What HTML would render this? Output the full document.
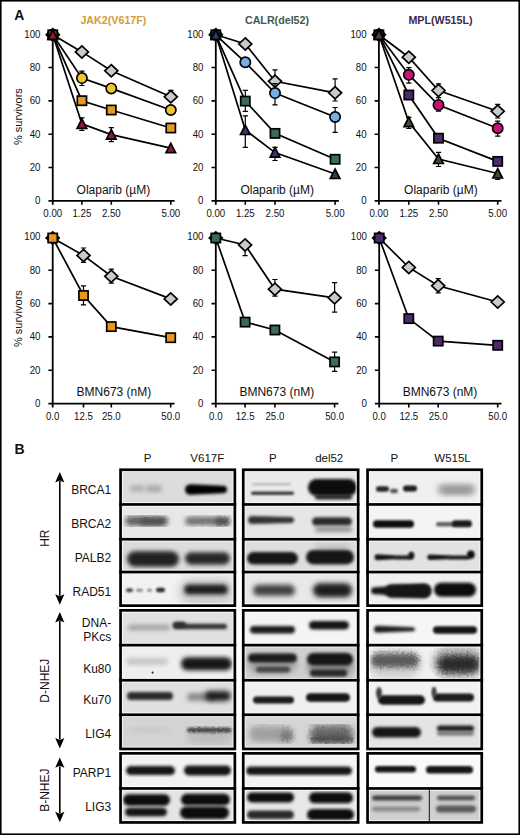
<!DOCTYPE html>
<html><head><meta charset="utf-8"><title>Figure</title>
<style>html,body{margin:0;padding:0;background:#fff;}body{width:520px;height:835px;overflow:hidden;}svg{display:block;}text{font-family:"Liberation Sans", sans-serif;}</style>
</head><body>
<svg width="520" height="835" viewBox="0 0 520 835">
<rect x="0" y="0" width="520" height="835" fill="#fff"/>
<defs><filter id="b0_5" x="-30%" y="-100%" width="160%" height="300%"><feGaussianBlur stdDeviation="0.60"/></filter><filter id="b0_9" x="-30%" y="-100%" width="160%" height="300%"><feGaussianBlur stdDeviation="1.08"/></filter><filter id="b1_0" x="-30%" y="-100%" width="160%" height="300%"><feGaussianBlur stdDeviation="1.20"/></filter><filter id="b1_1" x="-30%" y="-100%" width="160%" height="300%"><feGaussianBlur stdDeviation="1.32"/></filter><filter id="b1_2" x="-30%" y="-100%" width="160%" height="300%"><feGaussianBlur stdDeviation="1.44"/></filter><filter id="b1_3" x="-30%" y="-100%" width="160%" height="300%"><feGaussianBlur stdDeviation="1.56"/></filter><filter id="b1_4" x="-30%" y="-100%" width="160%" height="300%"><feGaussianBlur stdDeviation="1.68"/></filter><filter id="b1_5" x="-30%" y="-100%" width="160%" height="300%"><feGaussianBlur stdDeviation="1.80"/></filter><filter id="b1_6" x="-30%" y="-100%" width="160%" height="300%"><feGaussianBlur stdDeviation="1.92"/></filter><filter id="b1_7" x="-30%" y="-100%" width="160%" height="300%"><feGaussianBlur stdDeviation="2.04"/></filter><filter id="b1_8" x="-30%" y="-100%" width="160%" height="300%"><feGaussianBlur stdDeviation="2.16"/></filter><filter id="b2_0" x="-30%" y="-100%" width="160%" height="300%"><feGaussianBlur stdDeviation="2.40"/></filter><filter id="b2_2" x="-30%" y="-100%" width="160%" height="300%"><feGaussianBlur stdDeviation="2.64"/></filter><filter id="b2_4" x="-30%" y="-100%" width="160%" height="300%"><feGaussianBlur stdDeviation="2.88"/></filter><filter id="b2_5" x="-30%" y="-100%" width="160%" height="300%"><feGaussianBlur stdDeviation="3.00"/></filter><filter id="b2_6" x="-30%" y="-100%" width="160%" height="300%"><feGaussianBlur stdDeviation="3.12"/></filter><filter id="b3_0" x="-30%" y="-100%" width="160%" height="300%"><feGaussianBlur stdDeviation="3.60"/></filter><filter id="b3_5" x="-30%" y="-100%" width="160%" height="300%"><feGaussianBlur stdDeviation="4.20"/></filter><filter id="mot25" x="-5%" y="-5%" width="110%" height="110%"><feTurbulence type="fractalNoise" baseFrequency="0.45" numOctaves="2" seed="3" result="n"/><feDisplacementMap in="SourceGraphic" in2="n" scale="2.5" xChannelSelector="R" yChannelSelector="G"/></filter><filter id="mot30" x="-5%" y="-5%" width="110%" height="110%"><feTurbulence type="fractalNoise" baseFrequency="0.45" numOctaves="2" seed="3" result="n"/><feDisplacementMap in="SourceGraphic" in2="n" scale="3.0" xChannelSelector="R" yChannelSelector="G"/></filter><filter id="mot50" x="-5%" y="-5%" width="110%" height="110%"><feTurbulence type="fractalNoise" baseFrequency="0.45" numOctaves="2" seed="3" result="n"/><feDisplacementMap in="SourceGraphic" in2="n" scale="5.0" xChannelSelector="R" yChannelSelector="G"/></filter></defs>
<clipPath id="c0_0"><rect x="121.90" y="471.10" width="111.60" height="32.00"/></clipPath>
<g clip-path="url(#c0_0)"><rect x="121.90" y="471.10" width="111.60" height="32.00" fill="#dcdcdc"/>
<rect x="130.00" y="485.10" width="15.00" height="7.00" rx="3.50" fill="#b2b2b2" filter="url(#b1_8)"/>
<rect x="146.00" y="485.30" width="16.00" height="7.00" rx="3.50" fill="#aaaaaa" filter="url(#b1_8)"/>
<path d="M190.25 484.25L223.25 485.75A3.75 3.75 0 0 1 223.25 493.25L190.25 494.75A5.25 5.25 0 0 1 190.25 484.25Z" fill="#050505" filter="url(#b1_3)"/>
<rect x="121.90" y="471.10" width="111.60" height="32.00" fill="none" stroke="#fff" stroke-opacity="0.75" stroke-width="2.0"/>
</g>
<clipPath id="c0_1"><rect x="244.60" y="471.10" width="112.20" height="32.00"/></clipPath>
<g clip-path="url(#c0_1)"><rect x="244.60" y="471.10" width="112.20" height="32.00" fill="#eaeaea"/>
<rect x="252.00" y="483.05" width="39.00" height="2.50" rx="1.25" fill="#bcbcbc" filter="url(#b1_0)"/>
<rect x="251.00" y="491.55" width="43.00" height="3.50" rx="1.75" fill="#3c3c3c" filter="url(#b0_9)"/>
<rect x="308.00" y="479.00" width="49.00" height="17.00" rx="8.50" fill="#080808" filter="url(#b1_4)"/>
<rect x="315.00" y="494.50" width="37.00" height="5.00" rx="2.50" fill="#202020" filter="url(#b1_4)"/>
<rect x="244.60" y="471.10" width="112.20" height="32.00" fill="none" stroke="#fff" stroke-opacity="0.75" stroke-width="2.0"/>
</g>
<clipPath id="c0_2"><rect x="368.90" y="471.10" width="111.50" height="32.00"/></clipPath>
<g clip-path="url(#c0_2)"><rect x="368.90" y="471.10" width="111.50" height="32.00" fill="#f0f0f0"/>
<rect x="376.00" y="486.25" width="13.00" height="5.50" rx="2.75" fill="#262626" filter="url(#b1_0)"/>
<rect x="390.00" y="488.75" width="8.00" height="4.50" rx="2.25" fill="#5a5a5a" filter="url(#b1_0)"/>
<rect x="403.00" y="485.40" width="14.00" height="6.00" rx="3.00" fill="#1c1c1c" filter="url(#b1_0)"/>
<rect x="437.00" y="483.50" width="39.00" height="12.00" rx="6.00" fill="#b0b0b0" filter="url(#b2_2)"/>
<rect x="443.00" y="487.00" width="27.00" height="6.00" rx="3.00" fill="#989898" filter="url(#b1_6)"/>
<rect x="368.90" y="471.10" width="111.50" height="32.00" fill="none" stroke="#fff" stroke-opacity="0.75" stroke-width="2.0"/>
</g>
<clipPath id="c1_0"><rect x="121.90" y="505.80" width="111.60" height="32.10"/></clipPath>
<g clip-path="url(#c1_0)"><rect x="121.90" y="505.80" width="111.60" height="32.10" fill="#e8e8e8"/>
<g filter="url(#mot25)">
<rect x="125.00" y="516.25" width="43.00" height="9.50" rx="4.75" fill="#5e5e5e" filter="url(#b2_2)"/>
<rect x="140.00" y="518.50" width="25.00" height="6.00" rx="3.00" fill="#4e4e4e" filter="url(#b1_8)"/>
<rect x="185.00" y="516.75" width="45.00" height="8.50" rx="4.25" fill="#6e6e6e" filter="url(#b2_2)"/>
<rect x="215.00" y="518.00" width="14.00" height="7.00" rx="3.50" fill="#505050" filter="url(#b1_8)"/>
</g>
<rect x="121.90" y="505.80" width="111.60" height="32.10" fill="none" stroke="#fff" stroke-opacity="0.75" stroke-width="2.0"/>
</g>
<clipPath id="c1_1"><rect x="244.60" y="505.80" width="112.20" height="32.10"/></clipPath>
<g clip-path="url(#c1_1)"><rect x="244.60" y="505.80" width="112.20" height="32.10" fill="#e6e6e6"/>
<path d="M252.00 516.00L291.00 517.00A3.00 3.00 0 0 1 291.00 523.00L252.00 524.00A4.00 4.00 0 0 1 252.00 516.00Z" fill="#303030" filter="url(#b1_5)"/>
<rect x="312.00" y="517.35" width="40.00" height="8.50" rx="4.25" fill="#2c2c2c" filter="url(#b1_5)"/>
<rect x="315.00" y="526.80" width="37.00" height="5.00" rx="2.50" fill="#8a8a8a" filter="url(#b1_6)"/>
<rect x="244.60" y="505.80" width="112.20" height="32.10" fill="none" stroke="#fff" stroke-opacity="0.75" stroke-width="2.0"/>
</g>
<clipPath id="c1_2"><rect x="368.90" y="505.80" width="111.50" height="32.10"/></clipPath>
<g clip-path="url(#c1_2)"><rect x="368.90" y="505.80" width="111.50" height="32.10" fill="#f4f4f4"/>
<rect x="373.00" y="520.25" width="41.00" height="7.50" rx="3.75" fill="#101010" filter="url(#b1_1)"/>
<rect x="436.00" y="521.95" width="20.00" height="4.50" rx="2.25" fill="#606060" filter="url(#b1_0)"/>
<rect x="452.00" y="520.30" width="20.00" height="7.00" rx="3.50" fill="#1a1a1a" filter="url(#b1_0)"/>
<rect x="368.90" y="505.80" width="111.50" height="32.10" fill="none" stroke="#fff" stroke-opacity="0.75" stroke-width="2.0"/>
</g>
<clipPath id="c2_0"><rect x="121.90" y="540.60" width="111.60" height="30.10"/></clipPath>
<g clip-path="url(#c2_0)"><rect x="121.90" y="540.60" width="111.60" height="30.10" fill="#dcdcdc"/>
<rect x="127.00" y="551.25" width="52.00" height="15.50" rx="7.75" fill="#222222" filter="url(#b1_7)"/>
<rect x="185.00" y="552.15" width="45.00" height="12.50" rx="6.25" fill="#282828" filter="url(#b1_7)"/>
<rect x="121.90" y="540.60" width="111.60" height="30.10" fill="none" stroke="#fff" stroke-opacity="0.75" stroke-width="2.0"/>
</g>
<clipPath id="c2_1"><rect x="244.60" y="540.60" width="112.20" height="30.10"/></clipPath>
<g clip-path="url(#c2_1)"><rect x="244.60" y="540.60" width="112.20" height="30.10" fill="#dedede"/>
<rect x="247.00" y="552.05" width="51.00" height="12.50" rx="6.25" fill="#181818" filter="url(#b1_5)"/>
<rect x="315.00" y="545.00" width="35.00" height="6.00" rx="3.00" fill="#b8b8b8" filter="url(#b2_5)"/>
<rect x="306.00" y="549.95" width="48.00" height="14.50" rx="7.25" fill="#141414" filter="url(#b1_5)"/>
<rect x="244.60" y="540.60" width="112.20" height="30.10" fill="none" stroke="#fff" stroke-opacity="0.75" stroke-width="2.0"/>
</g>
<clipPath id="c2_2"><rect x="368.90" y="540.60" width="111.50" height="30.10"/></clipPath>
<g clip-path="url(#c2_2)"><rect x="368.90" y="540.60" width="111.50" height="30.10" fill="#e2e2e2"/>
<path d="M377.50 554.30L394.00 555.30A2.00 2.00 0 0 1 394.00 559.30L377.50 560.30A3.00 3.00 0 0 1 377.50 554.30Z" fill="#181818" filter="url(#b1_0)"/>
<rect x="394.00" y="555.60" width="18.00" height="4.00" rx="2.00" fill="#1c1c1c" filter="url(#b1_0)"/>
<rect x="408.30" y="551.65" width="6.00" height="7.50" rx="3.75" fill="#121212" filter="url(#b1_0)"/>
<path d="M430.05 554.55L448.00 555.30A2.00 2.00 0 0 1 448.00 559.30L430.05 560.05A2.75 2.75 0 0 1 430.05 554.55Z" fill="#181818" filter="url(#b1_0)"/>
<rect x="448.00" y="555.60" width="22.00" height="4.00" rx="2.00" fill="#1c1c1c" filter="url(#b1_0)"/>
<rect x="467.00" y="550.60" width="7.70" height="8.20" rx="4.10" fill="#101010" filter="url(#b1_0)"/>
<rect x="368.90" y="540.60" width="111.50" height="30.10" fill="none" stroke="#fff" stroke-opacity="0.75" stroke-width="2.0"/>
</g>
<clipPath id="c3_0"><rect x="121.90" y="573.40" width="111.60" height="30.90"/></clipPath>
<g clip-path="url(#c3_0)"><rect x="121.90" y="573.40" width="111.60" height="30.90" fill="#f2f2f2"/>
<rect x="178.00" y="578.00" width="58.00" height="28.00" rx="14.00" fill="#cfcfcf" filter="url(#b3_5)"/>
<rect x="126.00" y="588.30" width="7.00" height="4.00" rx="2.00" fill="#484848" filter="url(#b0_9)"/>
<rect x="136.00" y="588.80" width="7.00" height="3.00" rx="1.50" fill="#8c8c8c" filter="url(#b0_9)"/>
<rect x="147.00" y="588.80" width="5.00" height="3.00" rx="1.50" fill="#8c8c8c" filter="url(#b0_9)"/>
<rect x="156.00" y="587.75" width="9.00" height="4.50" rx="2.25" fill="#2c2c2c" filter="url(#b0_9)"/>
<rect x="184.00" y="584.60" width="44.00" height="10.00" rx="5.00" fill="#1e1e1e" filter="url(#b1_8)"/>
<rect x="121.90" y="573.40" width="111.60" height="30.90" fill="none" stroke="#fff" stroke-opacity="0.75" stroke-width="2.0"/>
</g>
<clipPath id="c3_1"><rect x="244.60" y="573.40" width="112.20" height="30.90"/></clipPath>
<g clip-path="url(#c3_1)"><rect x="244.60" y="573.40" width="112.20" height="30.90" fill="#e8e8e8"/>
<rect x="253.00" y="584.80" width="42.00" height="11.00" rx="5.50" fill="#404040" filter="url(#b2_2)"/>
<rect x="313.00" y="583.30" width="39.00" height="14.00" rx="7.00" fill="#1e1e1e" filter="url(#b2_2)"/>
<rect x="244.60" y="573.40" width="112.20" height="30.90" fill="none" stroke="#fff" stroke-opacity="0.75" stroke-width="2.0"/>
</g>
<clipPath id="c3_2"><rect x="368.90" y="573.40" width="111.50" height="30.90"/></clipPath>
<g clip-path="url(#c3_2)"><rect x="368.90" y="573.40" width="111.50" height="30.90" fill="#f0f0f0"/>
<path d="M374.50 587.30L424.30 584.10A6.70 6.70 0 0 1 424.30 597.50L374.50 594.30A3.50 3.50 0 0 1 374.50 587.30Z" fill="#121212" filter="url(#b1_5)"/>
<rect x="385.00" y="584.30" width="46.00" height="13.40" rx="6.70" fill="#121212" filter="url(#b1_5)"/>
<rect x="434.00" y="582.70" width="42.00" height="14.00" rx="7.00" fill="#0e0e0e" filter="url(#b1_5)"/>
<rect x="368.90" y="573.40" width="111.50" height="30.90" fill="none" stroke="#fff" stroke-opacity="0.75" stroke-width="2.0"/>
</g>
<rect x="120.55" y="469.75" width="114.30" height="135.90" fill="none" stroke="#000" stroke-width="2.7"/><rect x="119.20" y="503.10" width="117.00" height="2.7" fill="#000"/><rect x="119.20" y="537.90" width="117.00" height="2.7" fill="#000"/><rect x="119.20" y="570.70" width="117.00" height="2.7" fill="#000"/>
<rect x="243.25" y="469.75" width="114.90" height="135.90" fill="none" stroke="#000" stroke-width="2.7"/><rect x="241.90" y="503.10" width="117.60" height="2.7" fill="#000"/><rect x="241.90" y="537.90" width="117.60" height="2.7" fill="#000"/><rect x="241.90" y="570.70" width="117.60" height="2.7" fill="#000"/>
<rect x="367.55" y="469.75" width="114.20" height="135.90" fill="none" stroke="#000" stroke-width="2.7"/><rect x="366.20" y="503.10" width="116.90" height="2.7" fill="#000"/><rect x="366.20" y="537.90" width="116.90" height="2.7" fill="#000"/><rect x="366.20" y="570.70" width="116.90" height="2.7" fill="#000"/>
<clipPath id="c4_0"><rect x="121.90" y="611.70" width="111.60" height="32.10"/></clipPath>
<g clip-path="url(#c4_0)"><rect x="121.90" y="611.70" width="111.60" height="32.10" fill="#e0e0e0"/>
<rect x="128.00" y="624.85" width="42.00" height="5.50" rx="2.75" fill="#a2a2a2" filter="url(#b1_6)"/>
<rect x="173.00" y="623.75" width="54.00" height="5.50" rx="2.75" fill="#333333" filter="url(#b1_2)"/>
<rect x="173.00" y="621.75" width="13.00" height="5.50" rx="2.75" fill="#2c2c2c" filter="url(#b1_2)"/>
<rect x="121.90" y="611.70" width="111.60" height="32.10" fill="none" stroke="#fff" stroke-opacity="0.75" stroke-width="2.0"/>
</g>
<clipPath id="c4_1"><rect x="244.60" y="611.70" width="112.20" height="32.10"/></clipPath>
<g clip-path="url(#c4_1)"><rect x="244.60" y="611.70" width="112.20" height="32.10" fill="#f4f4f4"/>
<rect x="250.00" y="626.05" width="45.00" height="7.50" rx="3.75" fill="#1c1c1c" filter="url(#b1_2)"/>
<rect x="309.00" y="621.05" width="40.00" height="8.50" rx="4.25" fill="#121212" filter="url(#b1_2)"/>
<rect x="244.60" y="611.70" width="112.20" height="32.10" fill="none" stroke="#fff" stroke-opacity="0.75" stroke-width="2.0"/>
</g>
<clipPath id="c4_2"><rect x="368.90" y="611.70" width="111.50" height="32.10"/></clipPath>
<g clip-path="url(#c4_2)"><rect x="368.90" y="611.70" width="111.50" height="32.10" fill="#f6f6f6"/>
<path d="M377.50 625.70L413.00 627.20A2.00 2.00 0 0 1 413.00 631.20L377.50 632.70A3.50 3.50 0 0 1 377.50 625.70Z" fill="#1c1c1c" filter="url(#b1_2)"/>
<rect x="433.00" y="626.25" width="44.00" height="7.50" rx="3.75" fill="#141414" filter="url(#b1_1)"/>
<rect x="368.90" y="611.70" width="111.50" height="32.10" fill="none" stroke="#fff" stroke-opacity="0.75" stroke-width="2.0"/>
</g>
<clipPath id="c5_0"><rect x="121.90" y="646.50" width="111.60" height="32.40"/></clipPath>
<g clip-path="url(#c5_0)"><rect x="121.90" y="646.50" width="111.60" height="32.40" fill="#eeeeee"/>
<rect x="126.00" y="658.00" width="42.00" height="7.00" rx="3.50" fill="#c6c6c6" filter="url(#b1_8)"/>
<rect x="151.50" y="671.50" width="2.20" height="2.20" rx="1.10" fill="#303030" filter="url(#b0_5)"/>
<rect x="181.00" y="657.30" width="51.00" height="13.00" rx="6.50" fill="#161616" filter="url(#b1_6)"/>
<rect x="121.90" y="646.50" width="111.60" height="32.40" fill="none" stroke="#fff" stroke-opacity="0.75" stroke-width="2.0"/>
</g>
<clipPath id="c5_1"><rect x="244.60" y="646.50" width="112.20" height="32.40"/></clipPath>
<g clip-path="url(#c5_1)"><rect x="244.60" y="646.50" width="112.20" height="32.40" fill="#d0d0d0"/>
<rect x="248.00" y="655.00" width="49.00" height="18.00" rx="9.00" fill="#a0a0a0" filter="url(#b2_5)"/>
<rect x="307.00" y="655.00" width="46.00" height="22.00" rx="11.00" fill="#909090" filter="url(#b2_5)"/>
<rect x="248.00" y="653.50" width="49.00" height="9.00" rx="4.50" fill="#1c1c1c" filter="url(#b1_4)"/>
<rect x="256.00" y="666.60" width="34.00" height="6.00" rx="3.00" fill="#444444" filter="url(#b1_4)"/>
<rect x="307.00" y="652.95" width="46.00" height="12.50" rx="6.25" fill="#121212" filter="url(#b1_4)"/>
<rect x="310.00" y="669.50" width="37.00" height="7.00" rx="3.50" fill="#282828" filter="url(#b1_4)"/>
<rect x="244.60" y="646.50" width="112.20" height="32.40" fill="none" stroke="#fff" stroke-opacity="0.75" stroke-width="2.0"/>
</g>
<clipPath id="c5_2"><rect x="368.90" y="646.50" width="111.50" height="32.40"/></clipPath>
<g clip-path="url(#c5_2)"><rect x="368.90" y="646.50" width="111.50" height="32.40" fill="#f2f2f2"/>
<g filter="url(#mot50)">
<rect x="368.00" y="649.00" width="54.00" height="30.00" rx="15.00" fill="#d0d0d0" filter="url(#b3_0)"/>
<rect x="432.00" y="645.00" width="52.00" height="34.00" rx="17.00" fill="#bcbcbc" filter="url(#b3_0)"/>
<rect x="371.00" y="653.50" width="48.00" height="14.00" rx="7.00" fill="#5c5c5c" filter="url(#b2_4)"/>
<rect x="437.00" y="655.00" width="43.00" height="18.00" rx="9.00" fill="#2c2c2c" filter="url(#b2_6)"/>
</g>
<rect x="368.90" y="646.50" width="111.50" height="32.40" fill="none" stroke="#fff" stroke-opacity="0.75" stroke-width="2.0"/>
</g>
<clipPath id="c6_0"><rect x="121.90" y="681.60" width="111.60" height="31.80"/></clipPath>
<g clip-path="url(#c6_0)"><rect x="121.90" y="681.60" width="111.60" height="31.80" fill="#e0e0e0"/>
<rect x="127.00" y="692.00" width="46.00" height="8.00" rx="4.00" fill="#2a2a2a" filter="url(#b1_5)"/>
<rect x="187.00" y="693.50" width="28.00" height="7.00" rx="3.50" fill="#808080" filter="url(#b2_0)"/>
<rect x="205.00" y="691.00" width="26.00" height="10.00" rx="5.00" fill="#1e1e1e" filter="url(#b2_0)"/>
<rect x="121.90" y="681.60" width="111.60" height="31.80" fill="none" stroke="#fff" stroke-opacity="0.75" stroke-width="2.0"/>
</g>
<clipPath id="c6_1"><rect x="244.60" y="681.60" width="112.20" height="31.80"/></clipPath>
<g clip-path="url(#c6_1)"><rect x="244.60" y="681.60" width="112.20" height="31.80" fill="#f0f0f0"/>
<rect x="253.00" y="696.50" width="41.00" height="7.00" rx="3.50" fill="#1a1a1a" filter="url(#b1_1)"/>
<rect x="306.00" y="693.35" width="44.00" height="8.50" rx="4.25" fill="#161616" filter="url(#b1_1)"/>
<rect x="244.60" y="681.60" width="112.20" height="31.80" fill="none" stroke="#fff" stroke-opacity="0.75" stroke-width="2.0"/>
</g>
<clipPath id="c6_2"><rect x="368.90" y="681.60" width="111.50" height="31.80"/></clipPath>
<g clip-path="url(#c6_2)"><rect x="368.90" y="681.60" width="111.50" height="31.80" fill="#f2f2f2"/>
<rect x="378.00" y="695.25" width="47.00" height="9.50" rx="4.75" fill="#161616" filter="url(#b1_1)"/>
<rect x="433.00" y="693.60" width="41.00" height="8.00" rx="4.00" fill="#1a1a1a" filter="url(#b1_1)"/>
<rect x="376.00" y="687.00" width="6.00" height="12.00" rx="6.00" fill="#404040" filter="url(#b1_1)"/>
<rect x="431.50" y="687.00" width="5.00" height="10.00" rx="5.00" fill="#404040" filter="url(#b1_1)"/>
<rect x="368.90" y="681.60" width="111.50" height="31.80" fill="none" stroke="#fff" stroke-opacity="0.75" stroke-width="2.0"/>
</g>
<clipPath id="c7_0"><rect x="121.90" y="716.10" width="111.60" height="31.50"/></clipPath>
<g clip-path="url(#c7_0)"><rect x="121.90" y="716.10" width="111.60" height="31.50" fill="#d4d4d4"/>
<g filter="url(#mot30)">
<rect x="128.00" y="728.00" width="42.00" height="4.00" rx="2.00" fill="#c6c6c6" filter="url(#b2_0)"/>
<rect x="187.00" y="730.00" width="45.00" height="14.00" rx="7.00" fill="#bcbcbc" filter="url(#b3_0)"/>
<rect x="187.00" y="727.75" width="45.00" height="4.50" rx="2.25" fill="#3c3c3c" filter="url(#b1_2)"/>
</g>
<rect x="121.90" y="716.10" width="111.60" height="31.50" fill="none" stroke="#fff" stroke-opacity="0.75" stroke-width="2.0"/>
</g>
<clipPath id="c7_1"><rect x="244.60" y="716.10" width="112.20" height="31.50"/></clipPath>
<g clip-path="url(#c7_1)"><rect x="244.60" y="716.10" width="112.20" height="31.50" fill="#d6d6d6"/>
<g filter="url(#mot50)">
<rect x="249.00" y="726.00" width="44.00" height="16.00" rx="8.00" fill="#a0a0a0" filter="url(#b2_5)"/>
<rect x="280.00" y="730.00" width="13.00" height="12.00" rx="6.00" fill="#7c7c7c" filter="url(#b2_0)"/>
<rect x="310.00" y="725.00" width="43.00" height="16.00" rx="8.00" fill="#6a6a6a" filter="url(#b2_5)"/>
<rect x="310.00" y="736.50" width="43.00" height="6.00" rx="3.00" fill="#3c3c3c" filter="url(#b2_0)"/>
</g>
<rect x="244.60" y="716.10" width="112.20" height="31.50" fill="none" stroke="#fff" stroke-opacity="0.75" stroke-width="2.0"/>
</g>
<clipPath id="c7_2"><rect x="368.90" y="716.10" width="111.50" height="31.50"/></clipPath>
<g clip-path="url(#c7_2)"><rect x="368.90" y="716.10" width="111.50" height="31.50" fill="#e4e4e4"/>
<rect x="372.00" y="727.00" width="49.00" height="10.40" rx="5.20" fill="#131313" filter="url(#b1_3)"/>
<rect x="437.00" y="725.60" width="37.00" height="6.00" rx="3.00" fill="#1c1c1c" filter="url(#b1_2)"/>
<rect x="437.00" y="731.40" width="37.00" height="4.00" rx="2.00" fill="#707070" filter="url(#b1_4)"/>
<rect x="368.90" y="716.10" width="111.50" height="31.50" fill="none" stroke="#fff" stroke-opacity="0.75" stroke-width="2.0"/>
</g>
<rect x="120.55" y="610.35" width="114.30" height="138.60" fill="none" stroke="#000" stroke-width="2.7"/><rect x="119.20" y="643.80" width="117.00" height="2.7" fill="#000"/><rect x="119.20" y="678.90" width="117.00" height="2.7" fill="#000"/><rect x="119.20" y="713.40" width="117.00" height="2.7" fill="#000"/>
<rect x="243.25" y="610.35" width="114.90" height="138.60" fill="none" stroke="#000" stroke-width="2.7"/><rect x="241.90" y="643.80" width="117.60" height="2.7" fill="#000"/><rect x="241.90" y="678.90" width="117.60" height="2.7" fill="#000"/><rect x="241.90" y="713.40" width="117.60" height="2.7" fill="#000"/>
<rect x="367.55" y="610.35" width="114.20" height="138.60" fill="none" stroke="#000" stroke-width="2.7"/><rect x="366.20" y="643.80" width="116.90" height="2.7" fill="#000"/><rect x="366.20" y="678.90" width="116.90" height="2.7" fill="#000"/><rect x="366.20" y="713.40" width="116.90" height="2.7" fill="#000"/>
<clipPath id="c8_0"><rect x="121.90" y="754.70" width="111.60" height="32.40"/></clipPath>
<g clip-path="url(#c8_0)"><rect x="121.90" y="754.70" width="111.60" height="32.40" fill="#f2f2f2"/>
<rect x="126.00" y="766.10" width="49.00" height="9.00" rx="4.50" fill="#181818" filter="url(#b1_4)"/>
<rect x="184.00" y="765.40" width="47.00" height="10.00" rx="5.00" fill="#121212" filter="url(#b1_4)"/>
<rect x="121.90" y="754.70" width="111.60" height="32.40" fill="none" stroke="#fff" stroke-opacity="0.75" stroke-width="2.0"/>
</g>
<clipPath id="c8_1"><rect x="244.60" y="754.70" width="112.20" height="32.40"/></clipPath>
<g clip-path="url(#c8_1)"><rect x="244.60" y="754.70" width="112.20" height="32.40" fill="#f4f4f4"/>
<rect x="246.00" y="766.55" width="106.00" height="8.50" rx="4.25" fill="#121212" filter="url(#b1_4)"/>
<rect x="244.60" y="754.70" width="112.20" height="32.40" fill="none" stroke="#fff" stroke-opacity="0.75" stroke-width="2.0"/>
</g>
<clipPath id="c8_2"><rect x="368.90" y="754.70" width="111.50" height="32.40"/></clipPath>
<g clip-path="url(#c8_2)"><rect x="368.90" y="754.70" width="111.50" height="32.40" fill="#fafafa"/>
<rect x="375.00" y="765.95" width="41.00" height="6.50" rx="3.25" fill="#121212" filter="url(#b1_1)"/>
<rect x="426.00" y="766.05" width="47.00" height="7.50" rx="3.75" fill="#121212" filter="url(#b1_1)"/>
<rect x="368.90" y="754.70" width="111.50" height="32.40" fill="none" stroke="#fff" stroke-opacity="0.75" stroke-width="2.0"/>
</g>
<clipPath id="c9_0"><rect x="121.90" y="789.80" width="111.60" height="31.30"/></clipPath>
<g clip-path="url(#c9_0)"><rect x="121.90" y="789.80" width="111.60" height="31.30" fill="#e4e4e4"/>
<rect x="123.00" y="794.15" width="47.00" height="11.50" rx="5.75" fill="#0a0a0a" filter="url(#b1_3)"/>
<rect x="125.00" y="807.75" width="42.00" height="8.50" rx="4.25" fill="#151515" filter="url(#b1_3)"/>
<rect x="181.00" y="793.85" width="49.00" height="11.50" rx="5.75" fill="#0a0a0a" filter="url(#b1_3)"/>
<rect x="180.00" y="806.45" width="49.00" height="12.50" rx="6.25" fill="#0a0a0a" filter="url(#b1_3)"/>
<rect x="121.90" y="789.80" width="111.60" height="31.30" fill="none" stroke="#fff" stroke-opacity="0.75" stroke-width="2.0"/>
</g>
<clipPath id="c9_1"><rect x="244.60" y="789.80" width="112.20" height="31.30"/></clipPath>
<g clip-path="url(#c9_1)"><rect x="244.60" y="789.80" width="112.20" height="31.30" fill="#e8e8e8"/>
<rect x="247.00" y="792.40" width="47.00" height="10.00" rx="5.00" fill="#0e0e0e" filter="url(#b1_3)"/>
<rect x="247.00" y="810.45" width="47.00" height="8.50" rx="4.25" fill="#2a2a2a" filter="url(#b1_4)"/>
<rect x="309.00" y="792.30" width="44.00" height="11.00" rx="5.50" fill="#0a0a0a" filter="url(#b1_3)"/>
<rect x="307.00" y="809.10" width="47.00" height="11.00" rx="5.50" fill="#0a0a0a" filter="url(#b1_3)"/>
<rect x="244.60" y="789.80" width="112.20" height="31.30" fill="none" stroke="#fff" stroke-opacity="0.75" stroke-width="2.0"/>
</g>
<clipPath id="c9_2"><rect x="368.90" y="789.80" width="111.50" height="31.30"/></clipPath>
<g clip-path="url(#c9_2)"><rect x="368.90" y="789.80" width="111.50" height="31.30" fill="#d0d0d0"/>
<rect x="372.00" y="795.50" width="50.00" height="5.00" rx="2.50" fill="#3a3a3a" filter="url(#b1_3)"/>
<rect x="372.00" y="806.50" width="48.00" height="5.00" rx="2.50" fill="#8a8a8a" filter="url(#b1_5)"/>
<rect x="437.00" y="795.75" width="38.00" height="4.50" rx="2.25" fill="#4a4a4a" filter="url(#b1_3)"/>
<rect x="436.00" y="805.50" width="40.00" height="7.00" rx="3.50" fill="#585858" filter="url(#b1_4)"/>
<rect x="368.90" y="789.80" width="111.50" height="31.30" fill="none" stroke="#fff" stroke-opacity="0.75" stroke-width="2.0"/>
</g>
<rect x="120.55" y="753.35" width="114.30" height="69.10" fill="none" stroke="#000" stroke-width="2.7"/><rect x="119.20" y="787.10" width="117.00" height="2.7" fill="#000"/>
<rect x="243.25" y="753.35" width="114.90" height="69.10" fill="none" stroke="#000" stroke-width="2.7"/><rect x="241.90" y="787.10" width="117.60" height="2.7" fill="#000"/>
<rect x="367.55" y="753.35" width="114.20" height="69.10" fill="none" stroke="#000" stroke-width="2.7"/><rect x="366.20" y="787.10" width="116.90" height="2.7" fill="#000"/>
<rect x="428.8" y="789" width="1" height="33" fill="#111"/>
<path d="M52.75 33.20V204.70M48.45 200.90H174.60" stroke="#000" stroke-width="1.8" fill="none"/>
<path d="M48.45 167.56H52.75M48.45 134.22H52.75M48.45 100.88H52.75M48.45 67.54H52.75M48.45 34.20H52.75M81.90 200.90V204.70M111.30 200.90V204.70M170.80 200.90V204.70" stroke="#000" stroke-width="1.6" fill="none"/>
<text transform="translate(40.45 204.30) scale(0.94 1)" text-anchor="end" font-size="10.3" fill="#111">0</text>
<text transform="translate(40.45 170.96) scale(0.94 1)" text-anchor="end" font-size="10.3" fill="#111">20</text>
<text transform="translate(40.45 137.62) scale(0.94 1)" text-anchor="end" font-size="10.3" fill="#111">40</text>
<text transform="translate(40.45 104.28) scale(0.94 1)" text-anchor="end" font-size="10.3" fill="#111">60</text>
<text transform="translate(40.45 70.94) scale(0.94 1)" text-anchor="end" font-size="10.3" fill="#111">80</text>
<text transform="translate(40.45 37.60) scale(0.94 1)" text-anchor="end" font-size="10.3" fill="#111">100</text>
<text transform="translate(52.75 216.90) scale(0.94 1)" text-anchor="middle" font-size="10.3" fill="#111">0.00</text>
<text transform="translate(81.90 216.90) scale(0.94 1)" text-anchor="middle" font-size="10.3" fill="#111">1.25</text>
<text transform="translate(111.30 216.90) scale(0.94 1)" text-anchor="middle" font-size="10.3" fill="#111">2.50</text>
<text transform="translate(170.80 216.90) scale(0.94 1)" text-anchor="middle" font-size="10.3" fill="#111">5.00</text>
<text x="113.40" y="193.50" text-anchor="middle" font-size="12" fill="#111">Olaparib (µM)</text>
<text x="113.40" y="23.60" text-anchor="middle" font-size="10.7" font-weight="bold" fill="#d49c32">JAK2(V617F)</text>
<polyline points="52.75,34.80 81.90,51.90 111.30,70.80 170.80,96.80" fill="none" stroke="#000" stroke-width="1.7"/>
<polyline points="52.75,34.80 81.90,78.10 111.30,88.40 170.80,110.00" fill="none" stroke="#000" stroke-width="1.7"/>
<polyline points="52.75,34.80 81.90,100.70 111.30,110.00 170.80,128.00" fill="none" stroke="#000" stroke-width="1.7"/>
<polyline points="52.75,34.80 81.90,123.80 111.30,134.60 170.80,148.20" fill="none" stroke="#000" stroke-width="1.7"/>
<path d="M170.80 96.80V90.30M168.20 90.30H173.40" stroke="#000" stroke-width="1.2" fill="none"/>
<path d="M52.75 28.70L59.25 34.80L52.75 40.90L46.25 34.80Z" fill="#5a5a5c" stroke="#000" stroke-width="1.7" stroke-linejoin="miter"/>
<path d="M81.90 45.80L88.40 51.90L81.90 58.00L75.40 51.90Z" fill="#cacace" stroke="#000" stroke-width="1.7" stroke-linejoin="miter"/>
<path d="M111.30 64.70L117.80 70.80L111.30 76.90L104.80 70.80Z" fill="#cacace" stroke="#000" stroke-width="1.7" stroke-linejoin="miter"/>
<path d="M170.80 90.70L177.30 96.80L170.80 102.90L164.30 96.80Z" fill="#cacace" stroke="#000" stroke-width="1.7" stroke-linejoin="miter"/>
<path d="M81.90 78.10V71.10M79.30 71.10H84.50M81.90 78.10V85.50M79.30 85.50H84.50" stroke="#000" stroke-width="1.2" fill="none"/>
<circle cx="52.75" cy="34.80" r="5.15" fill="#6d5713" stroke="#000" stroke-width="1.7"/>
<circle cx="81.90" cy="78.10" r="5.15" fill="#f3c22c" stroke="#000" stroke-width="1.7"/>
<circle cx="111.30" cy="88.40" r="5.15" fill="#f3c22c" stroke="#000" stroke-width="1.7"/>
<circle cx="170.80" cy="110.00" r="5.15" fill="#f3c22c" stroke="#000" stroke-width="1.7"/>
<rect x="48.15" y="30.20" width="9.2" height="9.2" fill="#68440d" stroke="#000" stroke-width="1.7"/>
<rect x="77.30" y="96.10" width="9.2" height="9.2" fill="#e8981e" stroke="#000" stroke-width="1.7"/>
<rect x="106.70" y="105.40" width="9.2" height="9.2" fill="#e8981e" stroke="#000" stroke-width="1.7"/>
<rect x="166.20" y="123.40" width="9.2" height="9.2" fill="#e8981e" stroke="#000" stroke-width="1.7"/>
<path d="M81.90 123.80V117.80M79.30 117.80H84.50M81.90 123.80V130.50M79.30 130.50H84.50" stroke="#000" stroke-width="1.2" fill="none"/>
<path d="M111.30 134.60V127.60M108.70 127.60H113.90M111.30 134.60V141.60M108.70 141.60H113.90" stroke="#000" stroke-width="1.2" fill="none"/>
<path d="M52.75 29.90L57.55 39.30L47.95 39.30Z" fill="#8c1834" stroke="#000" stroke-width="1.7" stroke-linejoin="miter"/>
<path d="M81.90 118.90L86.70 128.30L77.10 128.30Z" fill="#8c1834" stroke="#000" stroke-width="1.7" stroke-linejoin="miter"/>
<path d="M111.30 129.70L116.10 139.10L106.50 139.10Z" fill="#8c1834" stroke="#000" stroke-width="1.7" stroke-linejoin="miter"/>
<path d="M170.80 143.30L175.60 152.70L166.00 152.70Z" fill="#8c1834" stroke="#000" stroke-width="1.7" stroke-linejoin="miter"/>
<path d="M215.80 33.20V204.70M211.50 200.90H338.90" stroke="#000" stroke-width="1.8" fill="none"/>
<path d="M211.50 167.56H215.80M211.50 134.22H215.80M211.50 100.88H215.80M211.50 67.54H215.80M211.50 34.20H215.80M245.30 200.90V204.70M275.00 200.90V204.70M335.10 200.90V204.70" stroke="#000" stroke-width="1.6" fill="none"/>
<text transform="translate(203.50 204.30) scale(0.94 1)" text-anchor="end" font-size="10.3" fill="#111">0</text>
<text transform="translate(203.50 170.96) scale(0.94 1)" text-anchor="end" font-size="10.3" fill="#111">20</text>
<text transform="translate(203.50 137.62) scale(0.94 1)" text-anchor="end" font-size="10.3" fill="#111">40</text>
<text transform="translate(203.50 104.28) scale(0.94 1)" text-anchor="end" font-size="10.3" fill="#111">60</text>
<text transform="translate(203.50 70.94) scale(0.94 1)" text-anchor="end" font-size="10.3" fill="#111">80</text>
<text transform="translate(203.50 37.60) scale(0.94 1)" text-anchor="end" font-size="10.3" fill="#111">100</text>
<text transform="translate(215.80 216.90) scale(0.94 1)" text-anchor="middle" font-size="10.3" fill="#111">0.00</text>
<text transform="translate(245.30 216.90) scale(0.94 1)" text-anchor="middle" font-size="10.3" fill="#111">1.25</text>
<text transform="translate(275.00 216.90) scale(0.94 1)" text-anchor="middle" font-size="10.3" fill="#111">2.50</text>
<text transform="translate(335.10 216.90) scale(0.94 1)" text-anchor="middle" font-size="10.3" fill="#111">5.00</text>
<text x="277.20" y="193.50" text-anchor="middle" font-size="12" fill="#111">Olaparib (µM)</text>
<text x="277.00" y="23.60" text-anchor="middle" font-size="10.7" font-weight="bold" fill="#3f5a50">CALR(del52)</text>
<polyline points="215.80,34.80 245.30,43.90 275.00,81.30 335.10,92.80" fill="none" stroke="#000" stroke-width="1.7"/>
<polyline points="215.80,34.80 245.30,62.30 275.00,93.10 335.10,117.00" fill="none" stroke="#000" stroke-width="1.7"/>
<polyline points="215.80,34.80 245.30,101.10 275.00,133.40 335.10,159.30" fill="none" stroke="#000" stroke-width="1.7"/>
<polyline points="215.80,34.80 245.30,130.00 275.00,152.60 335.10,174.00" fill="none" stroke="#000" stroke-width="1.7"/>
<path d="M275.00 81.30V69.80M272.40 69.80H277.60" stroke="#000" stroke-width="1.2" fill="none"/>
<path d="M335.10 92.80V78.80M332.50 78.80H337.70M335.10 92.80V101.00M332.50 101.00H337.70" stroke="#000" stroke-width="1.2" fill="none"/>
<path d="M215.80 28.70L222.30 34.80L215.80 40.90L209.30 34.80Z" fill="#5a5a5c" stroke="#000" stroke-width="1.7" stroke-linejoin="miter"/>
<path d="M245.30 37.80L251.80 43.90L245.30 50.00L238.80 43.90Z" fill="#cacace" stroke="#000" stroke-width="1.7" stroke-linejoin="miter"/>
<path d="M275.00 75.20L281.50 81.30L275.00 87.40L268.50 81.30Z" fill="#cacace" stroke="#000" stroke-width="1.7" stroke-linejoin="miter"/>
<path d="M335.10 86.70L341.60 92.80L335.10 98.90L328.60 92.80Z" fill="#cacace" stroke="#000" stroke-width="1.7" stroke-linejoin="miter"/>
<path d="M275.00 93.10V83.60M272.40 83.60H277.60M275.00 93.10V104.90M272.40 104.90H277.60" stroke="#000" stroke-width="1.2" fill="none"/>
<path d="M335.10 117.00V107.50M332.50 107.50H337.70M335.10 117.00V132.30M332.50 132.30H337.70" stroke="#000" stroke-width="1.2" fill="none"/>
<circle cx="215.80" cy="34.80" r="5.15" fill="#344f67" stroke="#000" stroke-width="1.7"/>
<circle cx="245.30" cy="62.30" r="5.15" fill="#74b0e6" stroke="#000" stroke-width="1.7"/>
<circle cx="275.00" cy="93.10" r="5.15" fill="#74b0e6" stroke="#000" stroke-width="1.7"/>
<circle cx="335.10" cy="117.00" r="5.15" fill="#74b0e6" stroke="#000" stroke-width="1.7"/>
<path d="M245.30 101.10V90.30M242.70 90.30H247.90M245.30 101.10V111.30M242.70 111.30H247.90" stroke="#000" stroke-width="1.2" fill="none"/>
<rect x="211.20" y="30.20" width="9.2" height="9.2" fill="#1a2f26" stroke="#000" stroke-width="1.7"/>
<rect x="240.70" y="96.50" width="9.2" height="9.2" fill="#3b6a56" stroke="#000" stroke-width="1.7"/>
<rect x="270.40" y="128.80" width="9.2" height="9.2" fill="#3b6a56" stroke="#000" stroke-width="1.7"/>
<rect x="330.50" y="154.70" width="9.2" height="9.2" fill="#3b6a56" stroke="#000" stroke-width="1.7"/>
<path d="M245.30 130.00V115.90M242.70 115.90H247.90M245.30 130.00V147.30M242.70 147.30H247.90" stroke="#000" stroke-width="1.2" fill="none"/>
<path d="M275.00 152.60V147.30M272.40 147.30H277.60M275.00 152.60V160.50M272.40 160.50H277.60" stroke="#000" stroke-width="1.2" fill="none"/>
<path d="M215.80 29.90L220.60 39.30L211.00 39.30Z" fill="#2c3c6c" stroke="#000" stroke-width="1.7" stroke-linejoin="miter"/>
<path d="M245.30 125.10L250.10 134.50L240.50 134.50Z" fill="#2c3c6c" stroke="#000" stroke-width="1.7" stroke-linejoin="miter"/>
<path d="M275.00 147.70L279.80 157.10L270.20 157.10Z" fill="#2c3c6c" stroke="#000" stroke-width="1.7" stroke-linejoin="miter"/>
<path d="M335.10 169.10L339.90 178.50L330.30 178.50Z" fill="#2c3c6c" stroke="#000" stroke-width="1.7" stroke-linejoin="miter"/>
<path d="M378.90 33.20V204.70M374.60 200.90H501.50" stroke="#000" stroke-width="1.8" fill="none"/>
<path d="M374.60 167.56H378.90M374.60 134.22H378.90M374.60 100.88H378.90M374.60 67.54H378.90M374.60 34.20H378.90M408.80 200.90V204.70M438.50 200.90V204.70M497.70 200.90V204.70" stroke="#000" stroke-width="1.6" fill="none"/>
<text transform="translate(366.60 204.30) scale(0.94 1)" text-anchor="end" font-size="10.3" fill="#111">0</text>
<text transform="translate(366.60 170.96) scale(0.94 1)" text-anchor="end" font-size="10.3" fill="#111">20</text>
<text transform="translate(366.60 137.62) scale(0.94 1)" text-anchor="end" font-size="10.3" fill="#111">40</text>
<text transform="translate(366.60 104.28) scale(0.94 1)" text-anchor="end" font-size="10.3" fill="#111">60</text>
<text transform="translate(366.60 70.94) scale(0.94 1)" text-anchor="end" font-size="10.3" fill="#111">80</text>
<text transform="translate(366.60 37.60) scale(0.94 1)" text-anchor="end" font-size="10.3" fill="#111">100</text>
<text transform="translate(378.90 216.90) scale(0.94 1)" text-anchor="middle" font-size="10.3" fill="#111">0.00</text>
<text transform="translate(408.80 216.90) scale(0.94 1)" text-anchor="middle" font-size="10.3" fill="#111">1.25</text>
<text transform="translate(438.50 216.90) scale(0.94 1)" text-anchor="middle" font-size="10.3" fill="#111">2.50</text>
<text transform="translate(497.70 216.90) scale(0.94 1)" text-anchor="middle" font-size="10.3" fill="#111">5.00</text>
<text x="440.90" y="193.50" text-anchor="middle" font-size="12" fill="#111">Olaparib (µM)</text>
<text x="440.50" y="23.60" text-anchor="middle" font-size="10.7" font-weight="bold" fill="#3e2850">MPL(W515L)</text>
<polyline points="378.90,34.80 408.80,57.20 438.50,90.50 497.70,111.30" fill="none" stroke="#000" stroke-width="1.7"/>
<polyline points="378.90,34.80 408.80,74.70 438.50,105.10 497.70,128.30" fill="none" stroke="#000" stroke-width="1.7"/>
<polyline points="378.90,34.80 408.80,95.00 438.50,138.20 497.70,161.40" fill="none" stroke="#000" stroke-width="1.7"/>
<polyline points="378.90,34.80 408.80,122.10 438.50,159.00 497.70,173.50" fill="none" stroke="#000" stroke-width="1.7"/>
<path d="M438.50 90.50V83.90M435.90 83.90H441.10" stroke="#000" stroke-width="1.2" fill="none"/>
<path d="M497.70 111.30V104.40M495.10 104.40H500.30M497.70 111.30V118.00M495.10 118.00H500.30" stroke="#000" stroke-width="1.2" fill="none"/>
<path d="M378.90 28.70L385.40 34.80L378.90 40.90L372.40 34.80Z" fill="#5a5a5c" stroke="#000" stroke-width="1.7" stroke-linejoin="miter"/>
<path d="M408.80 51.10L415.30 57.20L408.80 63.30L402.30 57.20Z" fill="#cacace" stroke="#000" stroke-width="1.7" stroke-linejoin="miter"/>
<path d="M438.50 84.40L445.00 90.50L438.50 96.60L432.00 90.50Z" fill="#cacace" stroke="#000" stroke-width="1.7" stroke-linejoin="miter"/>
<path d="M497.70 105.20L504.20 111.30L497.70 117.40L491.20 111.30Z" fill="#cacace" stroke="#000" stroke-width="1.7" stroke-linejoin="miter"/>
<path d="M408.80 74.70V67.70M406.20 67.70H411.40M408.80 74.70V83.10M406.20 83.10H411.40" stroke="#000" stroke-width="1.2" fill="none"/>
<path d="M438.50 105.10V97.60M435.90 97.60H441.10M438.50 105.10V111.20M435.90 111.20H441.10" stroke="#000" stroke-width="1.2" fill="none"/>
<path d="M497.70 128.30V121.10M495.10 121.10H500.30M497.70 128.30V136.20M495.10 136.20H500.30" stroke="#000" stroke-width="1.2" fill="none"/>
<circle cx="378.90" cy="34.80" r="5.15" fill="#5a0836" stroke="#000" stroke-width="1.7"/>
<circle cx="408.80" cy="74.70" r="5.15" fill="#c8127a" stroke="#000" stroke-width="1.7"/>
<circle cx="438.50" cy="105.10" r="5.15" fill="#c8127a" stroke="#000" stroke-width="1.7"/>
<circle cx="497.70" cy="128.30" r="5.15" fill="#c8127a" stroke="#000" stroke-width="1.7"/>
<rect x="374.30" y="30.20" width="9.2" height="9.2" fill="#231230" stroke="#000" stroke-width="1.7"/>
<rect x="404.20" y="90.40" width="9.2" height="9.2" fill="#4e2a6c" stroke="#000" stroke-width="1.7"/>
<rect x="433.90" y="133.60" width="9.2" height="9.2" fill="#4e2a6c" stroke="#000" stroke-width="1.7"/>
<rect x="493.10" y="156.80" width="9.2" height="9.2" fill="#4e2a6c" stroke="#000" stroke-width="1.7"/>
<path d="M408.80 122.10V117.40M406.20 117.40H411.40M408.80 122.10V128.50M406.20 128.50H411.40" stroke="#000" stroke-width="1.2" fill="none"/>
<path d="M438.50 159.00V152.40M435.90 152.40H441.10M438.50 159.00V166.50M435.90 166.50H441.10" stroke="#000" stroke-width="1.2" fill="none"/>
<path d="M497.70 173.50V179.40M495.10 179.40H500.30" stroke="#000" stroke-width="1.2" fill="none"/>
<path d="M378.90 29.90L383.70 39.30L374.10 39.30Z" fill="#56432f" stroke="#000" stroke-width="1.7" stroke-linejoin="miter"/>
<path d="M408.80 117.20L413.60 126.60L404.00 126.60Z" fill="#56432f" stroke="#000" stroke-width="1.7" stroke-linejoin="miter"/>
<path d="M438.50 154.10L443.30 163.50L433.70 163.50Z" fill="#56432f" stroke="#000" stroke-width="1.7" stroke-linejoin="miter"/>
<path d="M497.70 168.60L502.50 178.00L492.90 178.00Z" fill="#56432f" stroke="#000" stroke-width="1.7" stroke-linejoin="miter"/>
<path d="M52.70 235.90V407.40M48.40 403.60H174.50" stroke="#000" stroke-width="1.8" fill="none"/>
<path d="M48.40 370.26H52.70M48.40 336.92H52.70M48.40 303.58H52.70M48.40 270.24H52.70M48.40 236.90H52.70M83.50 403.60V407.40M111.30 403.60V407.40M170.70 403.60V407.40" stroke="#000" stroke-width="1.6" fill="none"/>
<text transform="translate(40.40 407.00) scale(0.94 1)" text-anchor="end" font-size="10.3" fill="#111">0</text>
<text transform="translate(40.40 373.66) scale(0.94 1)" text-anchor="end" font-size="10.3" fill="#111">20</text>
<text transform="translate(40.40 340.32) scale(0.94 1)" text-anchor="end" font-size="10.3" fill="#111">40</text>
<text transform="translate(40.40 306.98) scale(0.94 1)" text-anchor="end" font-size="10.3" fill="#111">60</text>
<text transform="translate(40.40 273.64) scale(0.94 1)" text-anchor="end" font-size="10.3" fill="#111">80</text>
<text transform="translate(40.40 240.30) scale(0.94 1)" text-anchor="end" font-size="10.3" fill="#111">100</text>
<text transform="translate(52.70 419.60) scale(0.94 1)" text-anchor="middle" font-size="10.3" fill="#111">0.0</text>
<text transform="translate(83.50 419.60) scale(0.94 1)" text-anchor="middle" font-size="10.3" fill="#111">12.5</text>
<text transform="translate(111.30 419.60) scale(0.94 1)" text-anchor="middle" font-size="10.3" fill="#111">25.0</text>
<text transform="translate(170.70 419.60) scale(0.94 1)" text-anchor="middle" font-size="10.3" fill="#111">50.0</text>
<text x="113.90" y="396.20" text-anchor="middle" font-size="12" fill="#111">BMN673 (nM)</text>
<polyline points="52.70,238.00 83.50,255.40 111.30,276.30 170.70,298.90" fill="none" stroke="#000" stroke-width="1.7"/>
<polyline points="52.70,238.00 83.50,295.50 111.30,326.60 170.70,337.70" fill="none" stroke="#000" stroke-width="1.7"/>
<path d="M83.50 255.40V248.00M80.90 248.00H86.10M83.50 255.40V262.30M80.90 262.30H86.10" stroke="#000" stroke-width="1.2" fill="none"/>
<path d="M111.30 276.30V269.20M108.70 269.20H113.90M111.30 276.30V283.10M108.70 283.10H113.90" stroke="#000" stroke-width="1.2" fill="none"/>
<path d="M52.70 231.90L59.20 238.00L52.70 244.10L46.20 238.00Z" fill="#5a5a5c" stroke="#000" stroke-width="1.7" stroke-linejoin="miter"/>
<path d="M83.50 249.30L90.00 255.40L83.50 261.50L77.00 255.40Z" fill="#cacace" stroke="#000" stroke-width="1.7" stroke-linejoin="miter"/>
<path d="M111.30 270.20L117.80 276.30L111.30 282.40L104.80 276.30Z" fill="#cacace" stroke="#000" stroke-width="1.7" stroke-linejoin="miter"/>
<path d="M170.70 292.80L177.20 298.90L170.70 305.00L164.20 298.90Z" fill="#cacace" stroke="#000" stroke-width="1.7" stroke-linejoin="miter"/>
<path d="M83.50 295.50V285.80M80.90 285.80H86.10M83.50 295.50V304.80M80.90 304.80H86.10" stroke="#000" stroke-width="1.2" fill="none"/>
<rect x="48.10" y="233.40" width="9.2" height="9.2" fill="#e8981e" stroke="#000" stroke-width="1.7"/>
<rect x="78.90" y="290.90" width="9.2" height="9.2" fill="#e8981e" stroke="#000" stroke-width="1.7"/>
<rect x="106.70" y="322.00" width="9.2" height="9.2" fill="#e8981e" stroke="#000" stroke-width="1.7"/>
<rect x="166.10" y="333.10" width="9.2" height="9.2" fill="#e8981e" stroke="#000" stroke-width="1.7"/>
<path d="M215.80 235.90V407.40M211.50 403.60H338.40" stroke="#000" stroke-width="1.8" fill="none"/>
<path d="M211.50 370.26H215.80M211.50 336.92H215.80M211.50 303.58H215.80M211.50 270.24H215.80M211.50 236.90H215.80M245.10 403.60V407.40M274.90 403.60V407.40M334.60 403.60V407.40" stroke="#000" stroke-width="1.6" fill="none"/>
<text transform="translate(203.50 407.00) scale(0.94 1)" text-anchor="end" font-size="10.3" fill="#111">0</text>
<text transform="translate(203.50 373.66) scale(0.94 1)" text-anchor="end" font-size="10.3" fill="#111">20</text>
<text transform="translate(203.50 340.32) scale(0.94 1)" text-anchor="end" font-size="10.3" fill="#111">40</text>
<text transform="translate(203.50 306.98) scale(0.94 1)" text-anchor="end" font-size="10.3" fill="#111">60</text>
<text transform="translate(203.50 273.64) scale(0.94 1)" text-anchor="end" font-size="10.3" fill="#111">80</text>
<text transform="translate(203.50 240.30) scale(0.94 1)" text-anchor="end" font-size="10.3" fill="#111">100</text>
<text transform="translate(215.80 419.60) scale(0.94 1)" text-anchor="middle" font-size="10.3" fill="#111">0.0</text>
<text transform="translate(245.10 419.60) scale(0.94 1)" text-anchor="middle" font-size="10.3" fill="#111">12.5</text>
<text transform="translate(274.90 419.60) scale(0.94 1)" text-anchor="middle" font-size="10.3" fill="#111">25.0</text>
<text transform="translate(334.60 419.60) scale(0.94 1)" text-anchor="middle" font-size="10.3" fill="#111">50.0</text>
<text x="276.80" y="396.20" text-anchor="middle" font-size="12" fill="#111">BMN673 (nM)</text>
<polyline points="215.80,238.00 245.10,244.90 274.90,289.20 334.60,297.80" fill="none" stroke="#000" stroke-width="1.7"/>
<polyline points="215.80,238.00 245.10,322.10 274.90,330.00 334.60,361.90" fill="none" stroke="#000" stroke-width="1.7"/>
<path d="M245.10 244.90V255.70M242.50 255.70H247.70" stroke="#000" stroke-width="1.2" fill="none"/>
<path d="M274.90 289.20V279.50M272.30 279.50H277.50M274.90 289.20V296.20M272.30 296.20H277.50" stroke="#000" stroke-width="1.2" fill="none"/>
<path d="M334.60 297.80V282.60M332.00 282.60H337.20M334.60 297.80V312.20M332.00 312.20H337.20" stroke="#000" stroke-width="1.2" fill="none"/>
<path d="M215.80 231.90L222.30 238.00L215.80 244.10L209.30 238.00Z" fill="#5a5a5c" stroke="#000" stroke-width="1.7" stroke-linejoin="miter"/>
<path d="M245.10 238.80L251.60 244.90L245.10 251.00L238.60 244.90Z" fill="#cacace" stroke="#000" stroke-width="1.7" stroke-linejoin="miter"/>
<path d="M274.90 283.10L281.40 289.20L274.90 295.30L268.40 289.20Z" fill="#cacace" stroke="#000" stroke-width="1.7" stroke-linejoin="miter"/>
<path d="M334.60 291.70L341.10 297.80L334.60 303.90L328.10 297.80Z" fill="#cacace" stroke="#000" stroke-width="1.7" stroke-linejoin="miter"/>
<path d="M334.60 361.90V352.20M332.00 352.20H337.20M334.60 361.90V371.30M332.00 371.30H337.20" stroke="#000" stroke-width="1.2" fill="none"/>
<rect x="211.20" y="233.40" width="9.2" height="9.2" fill="#3b6a56" stroke="#000" stroke-width="1.7"/>
<rect x="240.50" y="317.50" width="9.2" height="9.2" fill="#3b6a56" stroke="#000" stroke-width="1.7"/>
<rect x="270.30" y="325.40" width="9.2" height="9.2" fill="#3b6a56" stroke="#000" stroke-width="1.7"/>
<rect x="330.00" y="357.30" width="9.2" height="9.2" fill="#3b6a56" stroke="#000" stroke-width="1.7"/>
<path d="M379.20 235.90V407.40M374.90 403.60H501.50" stroke="#000" stroke-width="1.8" fill="none"/>
<path d="M374.90 370.26H379.20M374.90 336.92H379.20M374.90 303.58H379.20M374.90 270.24H379.20M374.90 236.90H379.20M408.80 403.60V407.40M438.20 403.60V407.40M497.70 403.60V407.40" stroke="#000" stroke-width="1.6" fill="none"/>
<text transform="translate(366.90 407.00) scale(0.94 1)" text-anchor="end" font-size="10.3" fill="#111">0</text>
<text transform="translate(366.90 373.66) scale(0.94 1)" text-anchor="end" font-size="10.3" fill="#111">20</text>
<text transform="translate(366.90 340.32) scale(0.94 1)" text-anchor="end" font-size="10.3" fill="#111">40</text>
<text transform="translate(366.90 306.98) scale(0.94 1)" text-anchor="end" font-size="10.3" fill="#111">60</text>
<text transform="translate(366.90 273.64) scale(0.94 1)" text-anchor="end" font-size="10.3" fill="#111">80</text>
<text transform="translate(366.90 240.30) scale(0.94 1)" text-anchor="end" font-size="10.3" fill="#111">100</text>
<text transform="translate(379.20 419.60) scale(0.94 1)" text-anchor="middle" font-size="10.3" fill="#111">0.0</text>
<text transform="translate(408.80 419.60) scale(0.94 1)" text-anchor="middle" font-size="10.3" fill="#111">12.5</text>
<text transform="translate(438.20 419.60) scale(0.94 1)" text-anchor="middle" font-size="10.3" fill="#111">25.0</text>
<text transform="translate(497.70 419.60) scale(0.94 1)" text-anchor="middle" font-size="10.3" fill="#111">50.0</text>
<text x="440.00" y="396.20" text-anchor="middle" font-size="12" fill="#111">BMN673 (nM)</text>
<polyline points="379.20,238.00 408.80,267.40 438.20,285.80 497.70,302.00" fill="none" stroke="#000" stroke-width="1.7"/>
<polyline points="379.20,238.00 408.80,318.60 438.20,341.10 497.70,345.30" fill="none" stroke="#000" stroke-width="1.7"/>
<path d="M438.20 285.80V278.70M435.60 278.70H440.80M438.20 285.80V292.90M435.60 292.90H440.80" stroke="#000" stroke-width="1.2" fill="none"/>
<path d="M379.20 231.90L385.70 238.00L379.20 244.10L372.70 238.00Z" fill="#5a5a5c" stroke="#000" stroke-width="1.7" stroke-linejoin="miter"/>
<path d="M408.80 261.30L415.30 267.40L408.80 273.50L402.30 267.40Z" fill="#cacace" stroke="#000" stroke-width="1.7" stroke-linejoin="miter"/>
<path d="M438.20 279.70L444.70 285.80L438.20 291.90L431.70 285.80Z" fill="#cacace" stroke="#000" stroke-width="1.7" stroke-linejoin="miter"/>
<path d="M497.70 295.90L504.20 302.00L497.70 308.10L491.20 302.00Z" fill="#cacace" stroke="#000" stroke-width="1.7" stroke-linejoin="miter"/>
<rect x="374.60" y="233.40" width="9.2" height="9.2" fill="#4e2a6c" stroke="#000" stroke-width="1.7"/>
<rect x="404.20" y="314.00" width="9.2" height="9.2" fill="#4e2a6c" stroke="#000" stroke-width="1.7"/>
<rect x="433.60" y="336.50" width="9.2" height="9.2" fill="#4e2a6c" stroke="#000" stroke-width="1.7"/>
<rect x="493.10" y="340.70" width="9.2" height="9.2" fill="#4e2a6c" stroke="#000" stroke-width="1.7"/>
<text x="14.2" y="19.6" font-size="14" font-weight="bold" fill="#111">A</text>
<text x="14.6" y="453.8" font-size="14" font-weight="bold" fill="#111">B</text>
<text transform="translate(21.6 116.6) rotate(-90)" text-anchor="middle" font-size="11" fill="#111">% survivors</text>
<text transform="translate(21.6 318.6) rotate(-90)" text-anchor="middle" font-size="11" fill="#111">% survivors</text>
<text x="147.7" y="462.2" text-anchor="middle" font-size="11.5" fill="#111">P</text>
<text x="207.3" y="462.2" text-anchor="middle" font-size="11.5" fill="#111">V617F</text>
<text x="272.8" y="462.2" text-anchor="middle" font-size="11.5" fill="#111">P</text>
<text x="329.2" y="462.2" text-anchor="middle" font-size="11.5" fill="#111">del52</text>
<text x="394.4" y="462.2" text-anchor="middle" font-size="11.5" fill="#111">P</text>
<text x="452.5" y="462.2" text-anchor="middle" font-size="11.5" fill="#111">W515L</text>
<text x="111.2" y="494.00" text-anchor="end" font-size="12" fill="#111">BRCA1</text>
<text x="111.2" y="528.30" text-anchor="end" font-size="12" fill="#111">BRCA2</text>
<text x="111.2" y="561.70" text-anchor="end" font-size="12" fill="#111">PALB2</text>
<text x="111.2" y="595.70" text-anchor="end" font-size="12" fill="#111">RAD51</text>
<text x="111.2" y="626.60" text-anchor="end" font-size="12" fill="#111">DNA-</text>
<text x="111.2" y="640.50" text-anchor="end" font-size="12" fill="#111">PKcs</text>
<text x="111.2" y="672.60" text-anchor="end" font-size="12" fill="#111">Ku80</text>
<text x="111.2" y="703.60" text-anchor="end" font-size="12" fill="#111">Ku70</text>
<text x="111.2" y="737.50" text-anchor="end" font-size="12" fill="#111">LIG4</text>
<text x="111.2" y="777.20" text-anchor="end" font-size="12" fill="#111">PARP1</text>
<text x="111.2" y="811.00" text-anchor="end" font-size="12" fill="#111">LIG3</text>
<path d="M59.8 481.0V595.7" stroke="#000" stroke-width="1.6"/>
<path d="M59.8 472.0L64.39999999999999 482.4L59.8 480.4L55.199999999999996 482.4Z" fill="#000"/>
<path d="M59.8 604.7L64.39999999999999 594.3000000000001L59.8 596.3000000000001L55.199999999999996 594.3000000000001Z" fill="#000"/>
<path d="M59.8 621.0V739.4" stroke="#000" stroke-width="1.6"/>
<path d="M59.8 612.0L64.39999999999999 622.4L59.8 620.4L55.199999999999996 622.4Z" fill="#000"/>
<path d="M59.8 748.4L64.39999999999999 738.0L59.8 740.0L55.199999999999996 738.0Z" fill="#000"/>
<path d="M59.8 766.4V813.2" stroke="#000" stroke-width="1.6"/>
<path d="M59.8 757.4L64.39999999999999 767.8L59.8 765.8L55.199999999999996 767.8Z" fill="#000"/>
<path d="M59.8 822.2L64.39999999999999 811.8000000000001L59.8 813.8000000000001L55.199999999999996 811.8000000000001Z" fill="#000"/>
<text transform="translate(49.4 538.2) rotate(-90)" text-anchor="middle" font-size="12" fill="#111">HR</text>
<text transform="translate(49.4 680.7) rotate(-90)" text-anchor="middle" font-size="12" fill="#111">D-NHEJ</text>
<text transform="translate(49.4 790.2) rotate(-90)" text-anchor="middle" font-size="12" fill="#111">B-NHEJ</text>
<rect x="0.8" y="0.8" width="518.4" height="833.4" fill="none" stroke="#000" stroke-width="1.6"/>
</svg>
</body></html>
